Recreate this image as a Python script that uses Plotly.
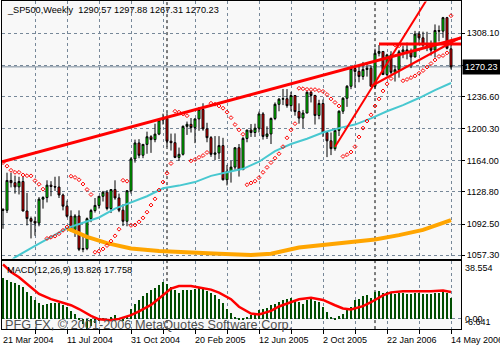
import pandas as pd
import plotly.graph_objects as go

# ---------------- data ----------------
start_date = "2004-03-21"
n_bars = 113
dates = [d.strftime("%Y-%m-%d") for d in pd.date_range(start_date, periods=n_bars, freq="7D")]

open_ = [1109.2, 1108.1, 1141.8, 1139.3, 1134.6, 1140.6, 1107.3, 1098.7, 1095.7, 1093.6,
         1120.7, 1122.5, 1136.5, 1135.0, 1134.4, 1125.4, 1112.8, 1101.4, 1086.2, 1101.7,
         1064.0, 1064.8, 1098.6, 1107.8, 1113.6, 1123.9, 1128.6, 1110.1, 1131.5, 1122.1,
         1108.2, 1095.7, 1130.2, 1166.2, 1184.2, 1170.3, 1182.6, 1191.2, 1188.0, 1194.2,
         1210.1, 1211.9, 1186.2, 1184.5, 1167.9, 1171.4, 1203.0, 1205.3, 1201.6, 1211.4,
         1222.1, 1200.1, 1190.2, 1171.4, 1172.9, 1181.2, 1142.6, 1152.1, 1156.9, 1178.8,
         1154.0, 1189.3, 1198.8, 1196.0, 1200.9, 1217.0, 1191.6, 1194.4, 1211.9, 1227.9,
         1233.7, 1234.2, 1226.4, 1237.8, 1219.7, 1212.3, 1218.0, 1241.5, 1237.9, 1215.3,
         1228.8, 1195.9, 1186.6, 1177.8, 1198.4, 1220.1, 1234.7, 1248.3, 1268.3, 1265.1,
         1259.4, 1267.3, 1268.7, 1248.3, 1285.5, 1287.6, 1261.5, 1283.7, 1264.0, 1267.0,
         1287.2, 1289.4, 1287.2, 1281.4, 1307.3, 1303.0, 1294.8, 1295.5, 1289.1, 1311.3,
         1310.6, 1325.8, 1290.57]
high = [1110.4, 1150.6, 1150.6, 1147.3, 1146.0, 1146.0, 1127.7, 1101.0, 1101.0, 1123.0,
        1124.0, 1142.0, 1141.0, 1146.0, 1146.6, 1127.0, 1119.0, 1108.0, 1103.7, 1108.0,
        1079.6, 1100.0, 1109.7, 1122.0, 1124.0, 1130.0, 1131.0, 1132.0, 1142.0, 1127.0,
        1115.0, 1131.0, 1168.0, 1188.0, 1188.5, 1183.0, 1197.0, 1193.0, 1206.0, 1211.0,
        1217.3, 1217.8, 1194.8, 1195.0, 1179.0, 1204.0, 1208.4, 1212.4, 1212.0, 1224.8,
        1229.1, 1207.0, 1192.0, 1192.0, 1191.9, 1190.0, 1159.4, 1164.0, 1179.0, 1183.0,
        1191.0, 1199.0, 1205.6, 1206.0, 1219.6, 1219.0, 1203.0, 1213.0, 1230.0, 1235.0,
        1245.2, 1245.1, 1242.0, 1238.0, 1229.0, 1221.5, 1242.5, 1243.1, 1238.5, 1233.0,
        1233.3, 1197.0, 1196.0, 1201.0, 1221.0, 1236.0, 1249.6, 1268.8, 1272.9, 1272.0,
        1275.8, 1275.0, 1271.9, 1290.8, 1294.9, 1288.0, 1285.0, 1287.9, 1272.0, 1289.4,
        1294.2, 1297.6, 1290.9, 1310.9, 1310.2, 1310.0, 1309.9, 1300.0, 1318.2, 1317.0,
        1326.7, 1326.7, 1297.88]
low = [1087.2, 1105.0, 1134.0, 1127.0, 1126.0, 1107.0, 1091.0, 1076.3, 1079.4, 1090.0,
       1110.0, 1117.0, 1124.0, 1130.0, 1122.0, 1108.0, 1100.0, 1084.0, 1078.0, 1062.0,
       1060.7, 1063.0, 1094.7, 1105.5, 1110.0, 1118.0, 1108.0, 1105.0, 1120.0, 1106.0,
       1090.3, 1090.0, 1127.0, 1162.0, 1167.0, 1167.0, 1172.0, 1173.0, 1185.0, 1193.0,
       1205.0, 1180.0, 1175.6, 1167.0, 1163.8, 1170.0, 1193.3, 1196.0, 1184.0, 1198.0,
       1198.0, 1185.0, 1168.5, 1164.8, 1166.0, 1141.9, 1136.2, 1139.4, 1154.0, 1146.2,
       1154.0, 1185.0, 1191.0, 1191.0, 1196.0, 1188.0, 1188.7, 1183.0, 1210.0, 1220.0,
       1227.0, 1224.0, 1220.0, 1215.0, 1206.0, 1201.1, 1218.0, 1230.0, 1205.0, 1211.0,
       1191.0, 1168.2, 1170.5, 1175.4, 1192.0, 1217.0, 1225.0, 1245.0, 1246.6, 1252.8,
       1255.6, 1259.2, 1248.3, 1245.7, 1282.0, 1261.0, 1259.7, 1262.0, 1253.6, 1258.0,
       1280.0, 1278.7, 1268.8, 1281.0, 1297.0, 1291.0, 1288.0, 1283.0, 1280.7, 1298.9,
       1303.0, 1290.0, 1267.31]
close = [1108.1, 1141.8, 1139.3, 1134.6, 1140.6, 1107.3, 1098.7, 1095.7, 1093.6, 1120.7,
         1122.5, 1136.5, 1135.0, 1134.4, 1125.4, 1112.8, 1101.4, 1086.2, 1101.7, 1064.0,
         1064.8, 1098.6, 1107.8, 1113.6, 1123.9, 1128.6, 1110.1, 1131.5, 1122.1, 1108.2,
         1095.7, 1130.2, 1166.2, 1184.2, 1170.3, 1182.6, 1191.2, 1188.0, 1194.2, 1210.1,
         1211.9, 1186.2, 1184.5, 1167.9, 1171.4, 1203.0, 1205.3, 1201.6, 1211.4, 1222.1,
         1200.1, 1190.2, 1171.4, 1172.9, 1181.2, 1142.6, 1152.1, 1156.9, 1178.8, 1154.0,
         1189.3, 1198.8, 1196.0, 1200.9, 1217.0, 1191.6, 1194.4, 1211.9, 1227.9, 1233.7,
         1234.2, 1226.4, 1237.8, 1219.7, 1212.3, 1218.0, 1241.5, 1237.9, 1215.3, 1228.8,
         1195.9, 1186.6, 1177.8, 1198.4, 1220.1, 1234.7, 1248.3, 1268.3, 1265.1, 1259.4,
         1267.3, 1268.7, 1248.3, 1285.5, 1287.6, 1261.5, 1283.7, 1264.0, 1267.0, 1287.2,
         1289.4, 1287.2, 1281.4, 1307.3, 1303.0, 1294.8, 1295.5, 1289.1, 1311.3, 1310.6,
         1325.8, 1291.2, 1270.23]

# Parabolic SAR, read per bar
sar = [1162.0, 1158.0, 1153.3, 1151.0, 1151.0, 1148.0, 1147.2, 1147.0, 1141.6, 1137.5,
       1132.0, 1076.3, 1077.6, 1078.9, 1081.6, 1085.5, 1089.2, 1146.6, 1145.3, 1142.6,
       1137.8, 1131.6, 1125.9, 1060.7, 1061.9, 1064.4, 1068.3, 1073.3, 1079.2, 1086.7,
       1142.0, 1141.0, 1091.0, 1091.5, 1095.0, 1099.5, 1106.0, 1114.0, 1121.0, 1131.0,
       1140.0, 1150.0, 1161.0, 1220.0, 1219.0, 1217.0, 1215.0, 1164.0, 1165.5, 1168.0,
       1170.0, 1173.5, 1229.1, 1228.0, 1226.0, 1223.5, 1219.0, 1212.8, 1205.0, 1199.0,
       1194.0, 1137.0, 1139.0, 1141.0, 1145.0, 1151.0, 1156.6, 1162.0, 1167.0, 1172.0,
       1180.0, 1190.0, 1199.0, 1206.0, 1246.0, 1245.5, 1244.8, 1244.5, 1244.5, 1243.5,
       1242.5, 1239.0, 1234.0, 1230.0, 1226.0, 1169.0, 1171.0, 1174.0, 1180.0, 1191.0,
       1201.0, 1209.0, 1216.0, 1226.0, 1234.0, 1243.0, 1251.0, 1257.0, 1295.0, 1294.0,
       1254.5, 1256.0, 1258.0, 1260.0, 1263.0, 1266.0, 1270.0, 1274.0, 1278.0, 1282.0,
       1283.0, 1286.0, 1328.0]

# MACD(12,26,9) main histogram, read per bar
macd_main = [27.2, 26.1, 25.0, 23.8, 22.8, 21.2, 18.3, 15.5, 13.0, 10.5,
             9.8, 10.3, 10.6, 11.0, 10.6, 9.5, 8.0, 5.5, 3.5, 1.2,
             -3.0, -6.6, -4.5, -2.5, -0.8, 1.0, -0.5, 1.8, 2.6, 1.2,
             -0.5, 2.0, 7.1, 10.4, 12.6, 15.3, 17.4, 19.6, 21.0, 22.6,
             24.8, 23.6, 21.4, 19.2, 17.4, 19.2, 19.6, 19.6, 20.3, 21.4,
             20.3, 18.8, 17.4, 15.9, 13.7, 10.8, 7.1, 4.2, 1.5, 1.1,
             0.4, 1.5, 2.6, 4.0, 6.4, 7.1, 7.7, 9.3, 10.4, 11.5,
             13.0, 13.7, 14.4, 12.6, 11.5, 10.4, 13.0, 13.7, 12.2, 11.5,
             8.2, 4.8, 1.5, 1.1, 2.0, 3.8, 6.4, 8.2, 12.6, 13.7,
             15.2, 15.9, 14.4, 18.1, 18.5, 17.4, 18.1, 17.4, 17.0, 17.4,
             17.4, 17.0, 16.6, 17.4, 17.4, 17.0, 17.0, 17.0, 17.4, 17.4,
             18.1, 17.4, 13.826]

# MACD signal line, read at these weeks
signal_dates = ["2004-03-21", "2004-04-04", "2004-04-18", "2004-05-09", "2004-05-23",
                "2004-06-13", "2004-06-27", "2004-07-18", "2004-08-01", "2004-08-22",
                "2004-09-05", "2004-09-26", "2004-10-10", "2004-10-31", "2004-11-14",
                "2004-12-05", "2004-12-19", "2005-01-09", "2005-01-23", "2005-02-13",
                "2005-02-27", "2005-03-20", "2005-04-03", "2005-04-24", "2005-05-08",
                "2005-05-29", "2005-06-12", "2005-07-03", "2005-07-17", "2005-08-07",
                "2005-08-21", "2005-09-11", "2005-10-02", "2005-10-23", "2005-11-06",
                "2005-11-20", "2005-12-11", "2005-12-25", "2006-01-15", "2006-01-29",
                "2006-02-19", "2006-03-19", "2006-04-09", "2006-04-30", "2006-05-07",
                "2006-05-14"]
signal_values = [36.0, 31.0, 27.5, 21.0, 16.5, 13.0, 11.2, 9.0, 6.5, 2.0,
                 -0.3, -0.9, 0.0, 2.5, 5.0, 9.2, 13.5, 20.0, 21.7, 21.7,
                 20.7, 19.3, 17.3, 13.0, 8.0, 3.5, 2.9, 5.3, 8.2, 11.2,
                 12.9, 13.9, 12.5, 9.0, 6.9, 6.2, 8.4, 11.0, 15.5, 17.5,
                 18.3, 18.3, 18.3, 18.8, 18.2, 17.758]

# moving averages, read at these weeks
ma50_dates = ["2004-04-04", "2004-04-11", "2004-05-16", "2004-06-13", "2004-07-11", "2004-08-08",
              "2004-09-05", "2004-10-03", "2004-10-31", "2004-11-28", "2004-12-26",
              "2005-01-23", "2005-02-20", "2005-03-20", "2005-04-17", "2005-05-15",
              "2005-06-12", "2005-07-10", "2005-08-07", "2005-09-04", "2005-10-02",
              "2005-10-30", "2005-11-27", "2005-12-25", "2006-01-22", "2006-02-19",
              "2006-03-19", "2006-04-16", "2006-05-14"]
ma50_values = [1051.0, 1055.0, 1068.0, 1078.0, 1088.0, 1094.0, 1100.0, 1110.0, 1117.0, 1124.0,
               1133.0, 1136.0, 1140.0, 1147.0, 1151.0, 1155.0, 1163.0, 1175.0, 1183.0,
               1189.0, 1196.0, 1201.0, 1205.0, 1212.0, 1220.0, 1227.0, 1235.0, 1244.0, 1252.0]
ma200_dates = ["2004-07-11", "2004-08-15", "2004-09-19", "2004-10-10", "2004-10-31",
               "2004-12-19", "2005-02-06", "2005-04-03", "2005-05-29", "2005-07-03",
               "2005-08-21", "2005-10-16", "2006-01-01", "2006-02-12", "2006-03-26",
               "2006-05-14"]
ma200_values = [1088.0, 1078.0, 1071.0, 1068.5, 1065.0, 1062.0, 1061.0, 1059.0, 1057.5,
                1059.0, 1066.0, 1070.0, 1075.0, 1080.0, 1086.0, 1097.0]

# trend lines drawn on the chart: (start week, start price, end week, end price)
trend_long = ("2004-03-21", 1163.1, "2006-05-14", 1299.9)
trend_steep = ("2005-10-23", 1180.0, "2006-01-01", 1252.4)
trend_channel = ("2005-12-25", 1248.3, "2006-05-14", 1297.5)
trend_flat = ("2006-01-08", 1296.0, "2006-05-14", 1296.0)

price_grid = [1057.3, 1092.5, 1128.8, 1164.0, 1200.3, 1236.6, 1272.2, 1308.1]
price_grid_labels = ["1057.30", "1092.50", "1128.80", "1164.00", "1200.30", "1236.60", "", "1308.10"]
date_label_weeks = ["2004-03-21", "2004-07-11", "2004-10-31", "2005-02-20",
                    "2005-06-12", "2005-10-02", "2006-01-22", "2006-05-14"]
date_labels = ["21 Mar 2004", "11 Jul 2004", "31 Oct 2004", "20 Feb 2005",
               "12 Jun 2005", "2 Oct 2005", "22 Jan 2006", "14 May 2006"]
separator_weeks = ["2005-01-02", "2006-01-01"]
macd_scale_labels = [38.554, 0.0, -6.641]
macd_scale_text = ["38.554", "0.00", "-6.641"]

title_text = "_SP500,Weekly\u00a0\u00a01290.57 1297.88 1267.31 1270.23"
macd_text = "MACD(12,26,9) 13.826 17.758"
copyright_text = "PFG FX, \u00a9 2001-2006 MetaQuotes Software Corp."

# ---------------- figure ----------------
W, H = 500, 350
pos = {d: i for i, d in enumerate(dates)}
xs = list(range(n_bars))
x_lo, x_hi = -0.25, 114.5
FONT = "Liberation Sans"
GRID = "#778899"

fig = go.Figure()

fig.add_trace(go.Scatter(x=[pos[d] for d in ma200_dates], y=ma200_values, mode="lines",
                         line=dict(color="#FFA500", width=4), xaxis="x", yaxis="y", hoverinfo="skip"))
fig.add_trace(go.Scatter(x=[pos[d] for d in ma50_dates], y=ma50_values, mode="lines",
                         line=dict(color="#48C8D0", width=2), xaxis="x", yaxis="y", hoverinfo="skip"))

fig.add_trace(go.Candlestick(
    x=xs, open=open_, high=high, low=low, close=close,
    increasing=dict(line=dict(color="black", width=1), fillcolor="#00FF00"),
    decreasing=dict(line=dict(color="black", width=1), fillcolor="#FF0000"),
    whiskerwidth=0, xaxis="x", yaxis="y"))

fig.add_trace(go.Scatter(x=xs, y=sar, mode="markers",
                         marker=dict(symbol="diamond-open", size=3, color="#FF0000",
                                     line=dict(color="#FF0000", width=1)),
                         xaxis="x", yaxis="y", hoverinfo="skip"))


def ray(spec, width, both=False):
    d0, p0, d1, p1 = spec
    x0, x1 = pos[d0], pos[d1]
    slope = (p1 - p0) / (x1 - x0)
    xa = x_lo if both else x0
    xb = x_hi
    fig.add_trace(go.Scatter(x=[xa, xb], y=[p0 + slope * (xa - x0), p0 + slope * (xb - x0)],
                             mode="lines", line=dict(color="#FF0000", width=width),
                             xaxis="x", yaxis="y", hoverinfo="skip"))


ray(trend_long, 3, both=True)
ray(trend_steep, 2)
ray(trend_channel, 2.2)
ray(trend_flat, 3)

fig.add_trace(go.Bar(x=xs, y=macd_main, width=0.18, marker=dict(color="#004d00", line=dict(width=0)),
                     xaxis="x2", yaxis="y2", hoverinfo="skip"))
fig.add_trace(go.Scatter(x=[pos[d] for d in signal_dates], y=signal_values, mode="lines",
                         line=dict(color="#FF0000", width=2.5), xaxis="x2", yaxis="y2",
                         hoverinfo="skip"))

main_top, main_bot = 1.5, 260.0
macd_top, macd_bot = 262.0, 331.0
px_l, px_r = 2.0, 461.0

axis_common = dict(showline=True, mirror=True, linecolor="black", linewidth=1, zeroline=False,
                   gridcolor=GRID, griddash="3px,3px", gridwidth=1)

fig.update_layout(
    width=W, height=H, margin=dict(l=0, r=0, t=0, b=0),
    paper_bgcolor="white", plot_bgcolor="#F8F8F8", showlegend=False,
    font=dict(family=FONT, size=9, color="black"),
    bargap=0,
    xaxis=dict(domain=[px_l / W, px_r / W], range=[x_lo, x_hi], anchor="y",
               tickvals=list(range(8, 113, 8)), showticklabels=False, ticks="",
               showgrid=True, rangeslider=dict(visible=False), **axis_common),
    yaxis=dict(domain=[1 - main_bot / H, 1 - main_top / H], range=[1053.6, 1344.1],
               anchor="x", side="right", tickvals=price_grid, ticktext=price_grid_labels,
               ticks="outside", ticklen=3, tickcolor="black", showgrid=True,
               tickfont=dict(family=FONT, size=9, color="black"), **axis_common),
    xaxis2=dict(domain=[px_l / W, px_r / W], range=[x_lo, x_hi], anchor="y2",
                tickvals=list(range(8, 113, 8)), showticklabels=False, ticks="outside",
                ticklen=4, tickcolor="black", showgrid=True, **axis_common),
    yaxis2=dict(domain=[1 - macd_bot / H, 1 - macd_top / H], range=[-6.77, 38.554],
                anchor="x2", side="right", tickvals=[0], showticklabels=False, ticks="",
                showgrid=True, **axis_common),
)

shapes = []
for d in separator_weeks:
    shapes.append(dict(type="line", xref="x", yref="paper", x0=pos[d], x1=pos[d],
                       y0=1 - macd_bot / H, y1=1 - main_top / H,
                       line=dict(color="black", width=1, dash="3px,3px"), layer="between"))
shapes.append(dict(type="line", xref="paper", yref="y", x0=px_l / W, x1=px_r / W,
                   y0=close[-1], y1=close[-1], line=dict(color=GRID, width=1), layer="between"))
fig.update_layout(shapes=shapes)

ann = []
ann.append(dict(text=title_text, xref="paper", yref="paper", x=5 / W, y=1 - 10.5 / H,
                xanchor="left", yanchor="middle", showarrow=False,
                font=dict(family=FONT, size=9.2, color="black")))
ann.append(dict(text=macd_text, xref="paper", yref="paper", x=5 / W, y=1 - 272 / H,
                xanchor="left", yanchor="middle", showarrow=False,
                font=dict(family=FONT, size=9.2, color="black")))
ann.append(dict(text=copyright_text, xref="paper", yref="paper", x=3 / W, y=1 - 326.4 / H,
                xanchor="left", yanchor="middle", showarrow=False,
                font=dict(family=FONT, size=12.7, color="#505050")))
for d, t in zip(date_label_weeks, date_labels):
    ann.append(dict(text=t, xref="x2", yref="paper", x=pos[d], y=1 - 341.5 / H,
                    xanchor="left", yanchor="middle", xshift=-2, showarrow=False,
                    font=dict(family=FONT, size=9, color="black")))
ann.append(dict(text=f"{close[-1]:.2f}", xref="paper", yref="y", x=462 / W, y=close[-1],
                xanchor="left", yanchor="middle", showarrow=False, bgcolor="black",
                borderpad=2, font=dict(family=FONT, size=9, color="white")))
for v, t, anc in zip(macd_scale_labels, macd_scale_text, ["top", "middle", "bottom"]):
    ann.append(dict(text=t, xref="paper", yref="y2", x=463 / W, y=v,
                    xanchor="left", yanchor=anc, showarrow=False,
                    font=dict(family=FONT, size=9, color="black")))
fig.update_layout(annotations=ann)

fig.write_html("out.html")
